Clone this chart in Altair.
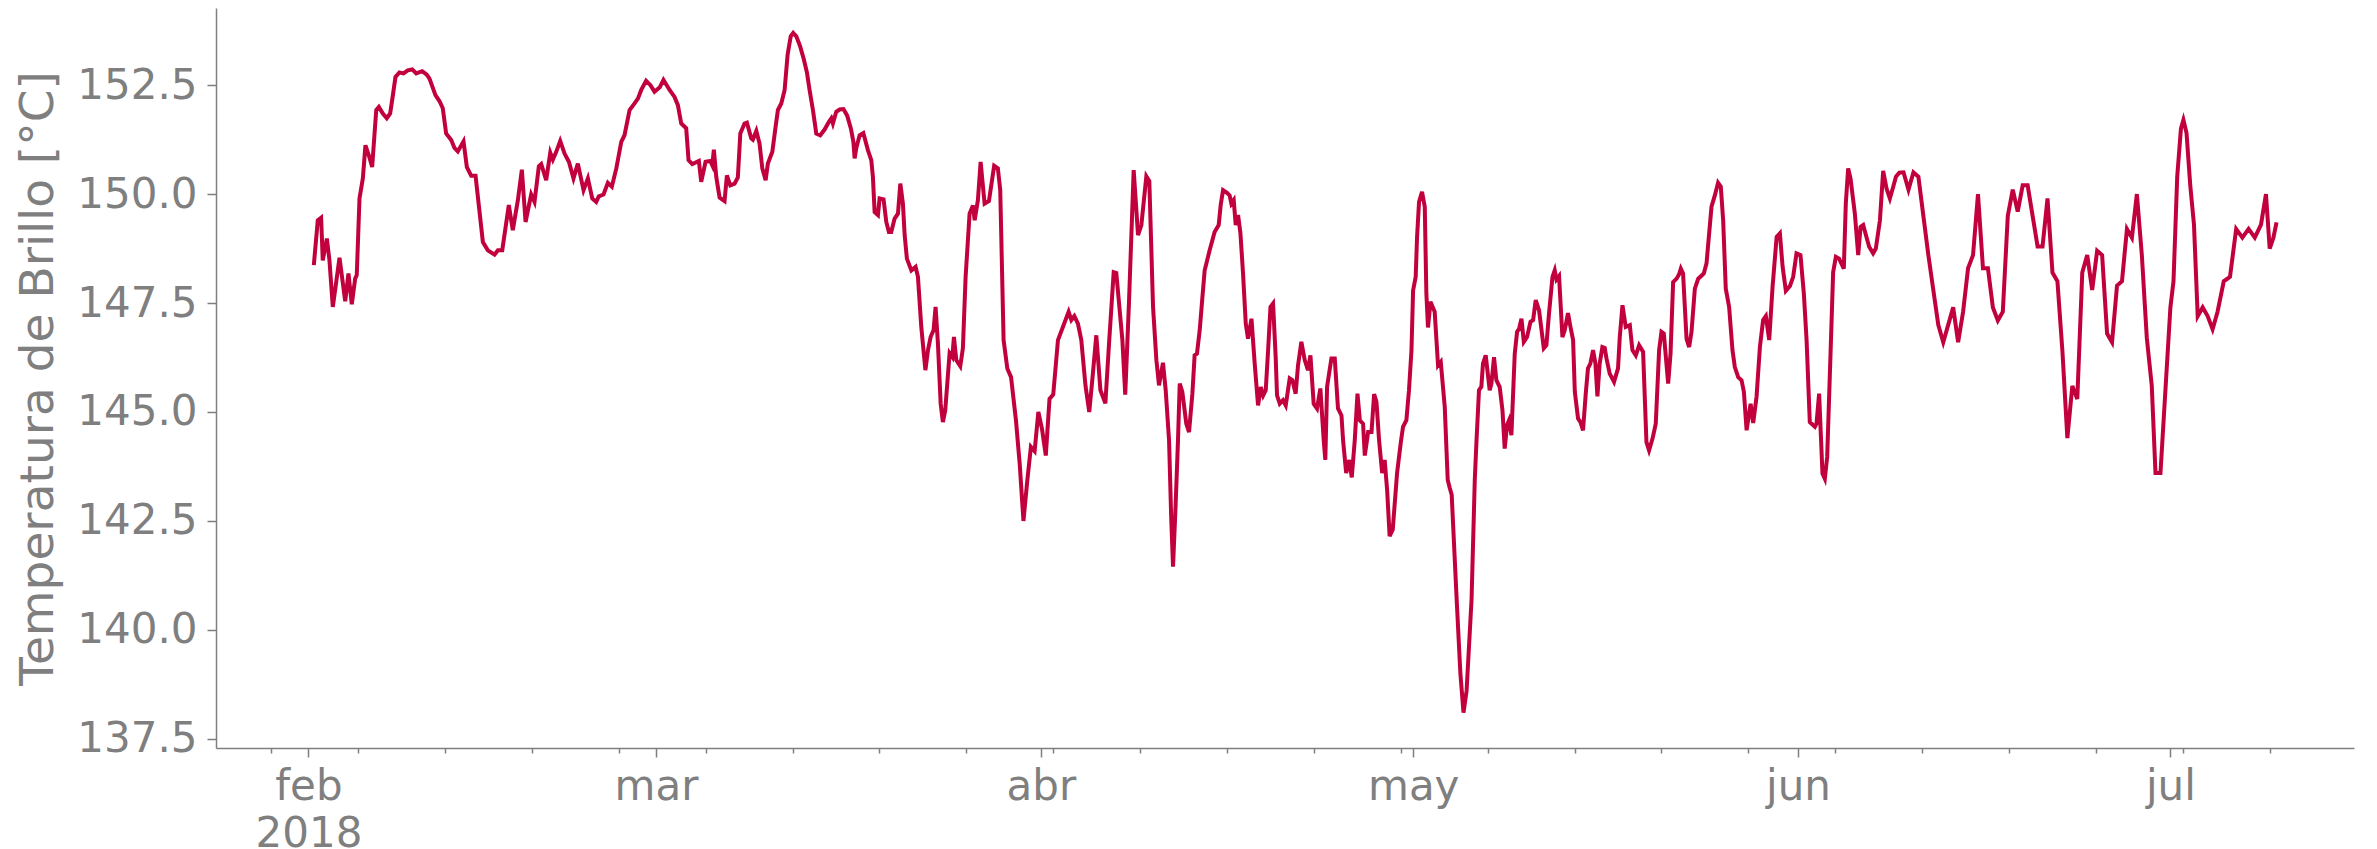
import altair as alt
import pandas as pd

# (days since 2018-02-01 00:00, brightness temperature in degC), per month
feb = [(0.43,148.37),(0.75,149.40),(1.02,149.46),(1.15,148.48),(1.48,148.98),(1.69,148.48),(1.96,147.41),(2.50,148.54),(2.96,147.54),(3.22,148.18),(3.49,147.47),(3.76,148.06),(3.89,148.14),(4.11,149.90),(4.38,150.36),(4.59,151.12),(4.86,150.89),(5.13,150.62),(5.46,151.93),(5.67,152.00),(5.99,151.85),(6.31,151.74),(6.58,151.85),(6.80,152.27),(7.01,152.69),(7.33,152.79),(7.66,152.77),(8.00,152.84),(8.36,152.86),(8.68,152.77),(9.16,152.82),(9.53,152.74),(9.75,152.65),(10.23,152.27),(10.56,152.13),(10.82,151.97),(11.09,151.39),(11.50,151.24),(11.76,151.06),(12.03,150.98),(12.49,151.21),(12.76,150.62),(13.11,150.42),(13.46,150.42),(14.05,148.90),(14.45,148.71),(14.99,148.61),(15.26,148.71),(15.61,148.71),(16.14,149.75),(16.46,149.17),(16.87,149.86),(17.19,150.56),(17.49,149.36),(17.94,149.99),(18.21,149.82),(18.56,150.64),(18.75,150.69),(19.15,150.32),(19.48,150.95),(19.69,150.79),(19.96,150.97),(20.28,151.22),(20.63,150.93),(20.98,150.74),(21.35,150.36),(21.70,150.70),(22.16,150.09),(22.51,150.36),(22.86,149.90),(23.18,149.82),(23.39,149.95),(23.77,149.99),(24.12,150.26),(24.44,150.17),(24.80,150.59),(25.20,151.20),(25.46,151.35),(25.87,151.93),(26.27,152.08),(26.54,152.19),(26.81,152.39),(27.20,152.60),(27.55,152.50),(27.88,152.35)]
mar = [(28.30,152.45),(28.60,152.62),(29.09,152.39),(29.49,152.23),(29.76,152.04),(30.03,151.62),(30.43,151.51),(30.62,150.78),(30.92,150.69),(31.45,150.76),(31.64,150.28),(31.99,150.74),(32.37,150.76),(32.53,150.66),(32.66,151.02),(32.85,150.40),(33.12,149.92),(33.52,149.84),(33.71,150.43),(33.98,150.20),(34.33,150.24),(34.59,150.38),(34.79,151.39),(35.13,151.62),(35.32,151.64),(35.67,151.28),(35.80,151.25),(36.08,151.45),(36.34,151.16),(36.56,150.59),(36.83,150.32),(37.01,150.70),(37.37,150.97),(37.63,151.54),(37.82,151.93),(38.09,152.08),(38.36,152.39),(38.60,153.20),(38.85,153.62),(39.05,153.70),(39.30,153.62),(39.60,153.40),(39.90,153.10),(40.15,152.80),(40.37,152.39),(40.64,151.93),(40.91,151.39),(41.23,151.35),(41.58,151.48),(41.93,151.66),(42.12,151.74),(42.25,151.62),(42.52,151.89),(42.79,151.94),(43.10,151.95),(43.40,151.80),(43.70,151.50),(43.90,151.20),(44.00,150.82),(44.13,151.05),(44.40,151.35),(44.70,151.40),(45.07,151.01),(45.34,150.78),(45.47,150.40),(45.61,149.59),(45.88,149.52),(46.01,149.90),(46.33,149.88),(46.55,149.36),(46.76,149.13),(46.95,149.13),(47.22,149.44),(47.49,149.55),(47.68,150.24),(47.89,149.78),(48.03,149.06),(48.21,148.52),(48.57,148.25),(48.91,148.33),(49.10,148.10),(49.37,146.95),(49.70,145.96),(49.91,146.42),(50.12,146.72),(50.36,146.88),(50.52,147.41),(50.71,146.57),(50.93,145.19),(51.11,144.77),(51.30,145.04),(51.65,146.35),(51.87,146.26),(52.00,146.72),(52.19,146.19),(52.51,146.05),(52.72,146.46),(52.94,148.10),(53.26,149.55),(53.53,149.74),(53.67,149.40),(53.93,149.86),(54.15,150.74),(54.47,149.78),(54.82,149.84),(55.24,150.65),(55.54,150.59),(55.73,150.09),(56.00,146.65),(56.30,146.00),(56.60,145.80),(57.00,144.80),(57.30,143.80),(57.60,142.50),(57.90,143.40),(58.20,144.20),(58.50,144.10),(58.80,145.00)]
abr = [(59.10,144.60),(59.40,144.00),(59.70,145.30),(60.00,145.40),(60.38,146.65),(61.24,147.30),(61.46,147.11),(61.70,147.20),(61.99,147.03),(62.26,146.65),(62.60,145.60),(62.90,145.00),(63.20,145.90),(63.47,146.76),(63.80,145.50),(64.20,145.20),(64.50,146.60),(64.87,148.21),(65.08,148.19),(65.57,146.65),(65.80,145.40),(66.10,147.50),(66.48,150.55),(66.83,149.06),(67.10,149.29),(67.50,150.41),(67.74,150.30),(68.04,147.41),(68.31,146.19),(68.52,145.61),(68.84,146.13),(69.06,145.50),(69.33,144.35),(69.50,142.60),(69.65,141.45),(69.85,142.80),(70.05,144.35),(70.19,145.65),(70.40,145.46),(70.72,144.73),(70.94,144.54),(71.21,145.42),(71.39,146.30),(71.58,146.34),(71.80,146.88),(72.01,147.61),(72.20,148.25),(72.60,148.71),(73.00,149.13),(73.33,149.29),(73.49,149.75),(73.68,150.09),(74.00,150.03),(74.21,149.97),(74.35,149.78),(74.54,149.86),(74.70,149.29),(74.89,149.52),(75.08,149.10),(75.29,148.18),(75.51,147.03),(75.69,146.68),(75.97,147.14),(76.23,146.11),(76.50,145.15),(76.72,145.57),(76.91,145.38),(77.12,145.50),(77.31,146.42),(77.50,147.41),(77.71,147.49),(77.92,146.26),(78.03,145.38),(78.25,145.19),(78.51,145.27),(78.73,145.15),(79.05,145.77),(79.27,145.73),(79.53,145.42),(79.72,146.07),(79.99,146.61),(80.26,146.19),(80.52,145.96),(80.72,146.30),(80.98,145.19),(81.25,145.08),(81.52,145.54),(81.79,144.35),(81.92,143.90),(82.06,145.58),(82.41,146.23),(82.68,146.23),(82.94,145.08),(83.22,144.92),(83.35,144.35),(83.60,143.60),(83.85,143.90),(84.05,143.50),(84.29,144.35),(84.51,145.42),(84.70,144.81),(84.96,144.73),(85.10,144.00),(85.37,144.54),(85.64,144.54),(85.85,145.41),(86.04,145.23),(86.25,144.35),(86.50,143.60),(86.70,143.90),(86.90,143.20),(87.10,142.15),(87.35,142.30),(87.70,143.60),(88.00,144.30),(88.18,144.66),(88.45,144.81),(88.66,145.50),(88.86,146.42)]
may = [(88.99,147.79),(89.20,148.10),(89.31,149.02),(89.47,149.82),(89.71,150.05),(89.93,149.71),(90.06,147.72),(90.19,146.94),(90.39,147.53),(90.73,147.30),(91.00,146.07),(91.22,146.15),(91.54,145.12),(91.78,143.44),(91.95,143.25),(92.10,143.10),(92.50,140.70),(92.80,139.00),(93.05,138.10),(93.30,138.60),(93.70,140.70),(93.96,143.44),(94.10,144.35),(94.30,145.50),(94.49,145.58),(94.62,146.11),(94.84,146.30),(95.16,145.50),(95.30,145.65),(95.51,146.26),(95.70,145.73),(95.97,145.57),(96.19,145.04),(96.37,144.16),(96.56,144.70),(96.72,144.81),(96.91,144.47),(97.18,146.34),(97.37,146.84),(97.53,146.91),(97.72,147.14),(97.91,146.61),(98.17,146.72),(98.45,147.07),(98.66,147.11),(98.87,147.57),(99.14,147.33),(99.52,146.46),(99.73,146.53),(99.94,147.26),(100.22,148.10),(100.40,148.25),(100.54,148.04),(100.75,148.12),(101.02,146.72),(101.21,146.88),(101.47,147.27),(101.67,146.95),(101.88,146.65),(102.02,145.46),(102.28,144.85),(102.47,144.77),(102.68,144.58),(102.90,145.42),(103.08,146.00),(103.27,146.11),(103.49,146.42),(103.68,146.11),(103.84,145.36),(104.02,146.11),(104.24,146.49),(104.43,146.47),(104.57,146.23),(104.83,145.88),(105.18,145.69),(105.50,146.00),(105.64,146.72),(105.86,147.45),(106.12,146.95),(106.45,146.99),(106.66,146.42),(106.93,146.30),(107.20,146.53),(107.52,146.38),(107.79,144.31),(108.00,144.12),(108.28,144.39),(108.54,144.73),(108.81,146.42),(109.00,146.84),(109.19,146.80),(109.54,145.65),(109.73,146.34),(109.94,147.98),(110.22,148.06),(110.42,148.16),(110.56,148.29),(110.74,148.18),(111.02,146.68),(111.23,146.49),(111.42,146.84),(111.69,147.83),(111.96,148.06),(112.20,148.12),(112.41,148.18),(112.63,148.41),(113.03,149.71),(113.30,149.97),(113.56,150.26),(113.78,150.17),(113.97,149.40),(114.18,147.83),(114.45,147.41),(114.72,146.42),(114.91,146.03),(115.18,145.80),(115.45,145.73),(115.64,145.46),(115.86,144.58),(116.18,145.19),(116.39,144.75),(116.66,145.35),(116.93,146.49),(117.19,147.11),(117.41,147.20),(117.68,146.65),(117.95,147.87),(118.28,149.02),(118.54,149.10),(118.76,148.33),(119.02,147.78),(119.35,147.89),(119.61,148.10),(119.88,148.64)]
jun = [(120.20,148.60),(120.47,147.72),(120.69,146.65),(120.95,144.77),(121.36,144.66),(121.49,144.73),(121.70,145.42),(121.97,143.59),(122.16,143.47),(122.35,143.97),(122.62,146.34),(122.83,148.21),(123.05,148.56),(123.31,148.52),(123.69,148.29),(123.85,149.78),(124.04,150.59),(124.23,150.36),(124.58,149.55),(124.85,148.60),(125.04,149.25),(125.25,149.29),(125.47,149.06),(125.73,148.79),(126.05,148.64),(126.27,148.75),(126.60,149.40),(126.86,150.53),(127.13,150.13),(127.40,149.90),(127.67,150.17),(127.89,150.40),(128.16,150.49),(128.50,150.50),(128.90,150.10),(129.30,150.50),(129.70,150.40),(130.10,149.50),(130.50,148.60),(130.90,147.80),(131.30,147.00),(131.70,146.60),(132.10,147.00),(132.50,147.40),(132.90,146.60),(133.30,147.30),(133.70,148.30),(134.10,148.60),(134.50,150.00),(134.90,148.30),(135.30,148.30),(135.70,147.40),(136.10,147.10),(136.50,147.30),(136.90,149.50),(137.30,150.10),(137.70,149.60),(138.10,150.20),(138.50,150.20),(138.90,149.50),(139.30,148.80),(139.70,148.80),(140.10,149.90),(140.50,148.20),(140.90,148.00),(141.30,146.40),(141.70,144.40),(142.10,145.60),(142.50,145.30),(142.90,148.20),(143.30,148.60),(143.70,147.80),(144.10,148.70),(144.50,148.60),(144.90,146.80),(145.30,146.60),(145.70,147.90),(146.10,148.00),(146.50,149.20),(146.90,149.00),(147.30,150.00),(147.70,148.60),(148.10,146.70),(148.50,145.60),(148.80,143.60),(149.20,143.60),(149.60,145.50)]
jul = [(150.00,147.40),(150.25,148.00),(150.55,150.40),(150.85,151.50),(151.05,151.70),(151.30,151.40),(151.60,150.20),(151.90,149.30),(152.20,147.20),(152.60,147.40),(153.00,147.20),(153.40,146.90),(153.80,147.30),(154.30,148.00),(154.80,148.10),(155.30,149.20),(155.80,149.00),(156.30,149.20),(156.80,149.00),(157.30,149.30),(157.70,150.00),(158.00,148.75),(158.30,149.00),(158.55,149.35)]

y_ticks = [137.5, 140.0, 142.5, 145.0, 147.5, 150.0, 152.5]
month_names = ["ene", "feb", "mar", "abr", "may", "jun", "jul", "ago", "sep", "oct", "nov", "dic"]
y_title = "Temperatura de Brillo [°C]"
start = pd.Timestamp("2018-02-01")

rows = []
for seg in (feb, mar, abr, may, jun, jul):
    for d, v in seg:
        t = start + pd.to_timedelta(d, unit="D")
        rows.append({"t": t.strftime("%Y-%m-%dT%H:%M:%S"), "v": v})
df = pd.DataFrame(rows)

def dt(ts):
    ts = pd.Timestamp(ts)
    return alt.DateTime(year=ts.year, month=ts.month, date=ts.day, hours=ts.hour, minutes=ts.minute)

month_starts = pd.date_range("2018-02-01", "2018-07-01", freq="MS")
mondays = pd.date_range("2018-01-29", "2018-07-15", freq="7D")
tick_vals = [dt(x) for x in sorted(list(month_starts) + list(mondays))]

gray = "#7f7f7f"
font = "DejaVu Sans"
names_js = "[" + ",".join("'%s'" % m for m in month_names) + "]"
label_expr = ("date(datum.value) == 1 ? (month(datum.value) == 1 ? ['feb', '2018'] : "
              + names_js + "[month(datum.value)]) : ''")

x_axis = alt.Axis(
    values=tick_vals, labelExpr=label_expr, title=None, grid=False,
    labelOverlap=False, labelFlush=False, labelFontSize=42, labelFont=font,
    labelColor=gray, labelPadding=9, labelLineHeight=47,
    tickColor=gray, tickWidth=1.5, domainColor=gray, domainWidth=1.5,
    tickSize={"condition": {"test": "date(datum.value) == 1", "value": 9}, "value": 5},
)
y_axis = alt.Axis(
    values=y_ticks, format=".1f", title=y_title, grid=False,
    labelFontSize=42, labelFont=font, labelColor=gray, labelPadding=10,
    tickColor=gray, tickWidth=1.5, tickSize=9, domainColor=gray, domainWidth=1.5,
    titleFontSize=47, titleFont=font, titleColor=gray, titleFontWeight="normal",
    titlePadding=14,
)

chart = alt.Chart(df).mark_line(color="#c2003d", strokeWidth=4).encode(
    x=alt.X("t:T", axis=x_axis,
            scale=alt.Scale(domain=[dt("2018-01-24 13:12"), dt("2018-07-15 19:00")], nice=False)),
    y=alt.Y("v:Q", axis=y_axis,
            scale=alt.Scale(domain=[137.29, 154.27], nice=False, zero=False)),
).properties(
    width=2138, height=740,
    padding={"left": 208, "top": 0, "right": 15, "bottom": 101},
    autosize=alt.AutoSizeParams(type="none"),
    background="white",
).configure_view(stroke=None, strokeWidth=0)

chart.save("out.html", embed_options={"renderer": "svg", "actions": False})
